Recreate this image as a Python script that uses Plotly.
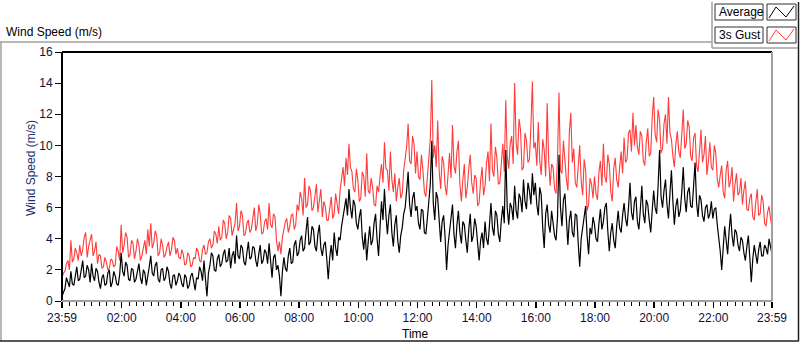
import plotly.graph_objects as go

# ---------------- data (3-minute samples, hours after 23:59) ----------------
gust = [
    1.5, 1.8, 1.9, 2.4, 2.6, 2.0, 3.9, 2.5, 2.7, 3.4, 3.1, 2.6, 3.6, 2.9, 3.3, 4.1, 4.4, 2.8, 3.5, 3.9,
    4.3, 2.9, 3.2, 3.8, 2.4, 3.0, 2.9, 2.1, 2.2, 2.8, 2.5, 2.0, 2.1, 2.7, 2.6, 2.2, 2.3, 3.5, 3.2, 2.6,
    4.9, 3.1, 3.6, 4.4, 4.1, 2.8, 3.0, 3.9, 3.7, 2.7, 3.2, 4.0, 3.6, 2.6, 2.9, 3.4, 3.9, 3.0, 4.6, 3.5,
    5.0, 3.4, 3.7, 4.5, 4.2, 2.9, 3.1, 4.0, 3.6, 2.8, 3.0, 3.5, 3.8, 2.9, 3.3, 4.1, 3.9, 3.0, 3.4, 2.8,
    2.7, 3.3, 3.0, 2.3, 2.4, 3.1, 2.9, 2.2, 2.3, 2.8, 2.7, 3.4, 3.2, 2.6, 2.5, 3.3, 3.6, 3.0, 3.1, 3.8,
    4.0, 3.4, 3.6, 4.5, 4.3, 3.7, 4.8, 3.9, 4.1, 5.2, 5.0, 4.0, 4.4, 5.5, 5.3, 4.2, 4.6, 5.0, 6.3, 4.5,
    4.8, 5.8, 5.5, 4.2, 4.3, 5.0, 5.2, 4.4, 4.6, 5.4, 6.0, 4.5, 4.9, 6.2, 5.6, 4.3, 4.4, 5.1, 5.3, 4.6,
    6.3, 4.9, 4.7, 5.6, 5.4, 3.9, 3.2, 3.8, 3.0, 4.1, 4.6, 5.1, 5.3, 4.4, 4.8, 5.5, 5.6, 4.6, 4.9, 6.2,
    5.8, 7.0, 6.6, 5.5, 7.9, 6.0, 6.2, 7.4, 7.1, 5.8, 6.0, 6.9, 7.5, 5.7, 6.6, 7.2, 5.4, 6.4, 6.1, 5.2,
    5.2, 6.1, 6.7, 5.3, 5.6, 6.9, 6.3, 5.6, 7.1, 8.0, 8.6, 7.4, 9.2, 8.1, 10.1, 8.6, 8.3, 7.2, 7.0, 8.5,
    7.8, 6.4, 6.6, 8.3, 8.0, 6.7, 9.5, 7.1, 6.9, 7.9, 7.3, 6.2, 6.1, 7.4, 7.0, 8.0, 8.8, 7.6, 10.2, 8.5,
    8.4, 7.1, 9.6, 7.8, 7.0, 8.2, 6.4, 7.3, 7.9, 6.6, 6.9, 8.4, 9.3, 9.9, 11.4, 9.0, 8.8, 10.6, 10.1, 8.2,
    9.6, 8.0, 7.8, 9.4, 8.4, 7.0, 6.7, 8.1, 9.1, 10.4, 14.2, 9.2, 10.0, 8.6, 11.6, 8.3, 7.2, 9.3, 8.9, 7.4,
    6.8, 8.4, 9.5, 7.9, 11.3, 8.7, 8.2, 9.6, 10.3, 7.5, 6.4, 7.8, 8.8, 6.6, 7.3, 8.5, 9.4, 7.6, 6.9, 8.1,
    7.9, 6.1, 6.3, 7.7, 8.6, 6.8, 7.4, 8.9, 9.6, 7.7, 11.4, 8.4, 8.0, 9.9, 9.2, 7.5, 7.6, 8.8, 10.1, 8.3,
    12.9, 9.3, 8.5, 10.1, 10.6, 8.8, 14.0, 10.2, 9.4, 11.7, 11.0, 8.4, 8.6, 10.8, 10.3, 8.9, 9.1, 11.2, 14.1, 9.8,
    10.2, 8.7, 11.5, 9.0, 8.1, 10.4, 9.7, 8.0, 12.7, 9.1, 7.4, 8.8, 8.6, 7.2, 6.9, 9.2, 13.4, 8.4, 8.2, 10.3,
    9.0, 7.8, 7.1, 10.9, 12.1, 8.9, 9.8, 7.6, 7.3, 8.6, 10.0, 7.7, 6.8, 9.1, 8.4, 5.8, 6.2, 7.9, 7.5, 6.6,
    8.0, 6.9, 6.5, 8.3, 9.0, 7.4, 10.1, 8.0, 7.6, 9.4, 8.8, 7.0, 6.4, 8.5, 9.2, 7.8, 7.3, 8.6, 9.6, 8.2,
    10.5, 8.9, 9.1, 10.8, 11.0, 9.6, 12.1, 10.0, 11.3, 9.9, 9.4, 10.9, 10.6, 9.0, 8.7, 10.2, 11.1, 9.3, 9.5, 11.8,
    13.1, 10.7, 10.2, 12.3, 11.6, 9.5, 9.8, 11.4, 12.0, 10.1, 13.1, 10.8, 10.4, 9.3, 8.6, 10.1, 10.9, 9.6, 9.2, 10.7,
    12.3, 9.8, 10.1, 11.6, 11.2, 9.3, 9.0, 10.5, 10.8, 8.7, 8.3, 9.6, 11.0, 8.9, 9.4, 10.6, 8.1, 9.0, 10.2, 8.6,
    8.4, 10.0, 9.5, 7.8, 7.3, 8.1, 8.7, 7.0, 6.6, 8.4, 9.0, 7.3, 7.7, 8.6, 6.4, 7.5, 8.2, 6.8, 7.0, 7.9,
    6.2, 7.1, 7.7, 5.9, 5.8, 6.6, 6.9, 5.4, 5.2, 6.3, 7.2, 5.5, 5.6, 6.8, 6.4, 5.0, 4.8, 5.7, 6.1, 5.3,
    4.7,
]

average = [
    0.3, 0.6, 0.8, 1.5, 1.2, 0.9, 1.9, 1.1, 1.0, 1.7, 2.2, 1.3, 1.4, 2.0, 2.6, 1.5, 1.6, 2.3, 2.0, 1.2,
    2.4, 1.6, 1.3, 2.1, 1.9, 1.2, 0.8, 1.5, 1.7, 1.0, 1.1, 1.8, 2.0, 0.9, 1.2, 1.9, 1.6, 1.1, 1.0, 1.7,
    3.1, 1.9, 1.6, 2.5, 2.3, 1.4, 1.3, 2.1, 2.0, 1.2, 1.4, 1.9, 2.4, 1.5, 1.1, 2.0, 1.8, 1.0, 1.5, 2.2,
    2.9, 1.8, 1.6, 2.3, 2.5, 1.4, 1.2, 2.0, 2.1, 1.3, 1.5, 2.2, 1.9, 1.1, 0.8, 1.6, 1.7, 1.0, 1.3, 1.8,
    1.6, 1.1, 0.9, 1.7, 1.5, 0.8, 1.0, 1.6, 1.8, 1.2, 0.7, 1.5, 1.4, 2.2, 1.9, 1.3, 2.6, 1.4, 0.3, 1.8,
    2.3, 3.1, 2.9, 2.0, 1.9, 2.7, 3.0, 2.2, 2.4, 3.0, 3.3, 2.5, 2.6, 3.4, 2.1, 2.9, 3.2, 2.4, 4.2, 2.9,
    2.7, 3.6, 3.4, 2.5, 2.3, 3.1, 3.8, 2.7, 2.8, 3.5, 3.4, 2.6, 2.2, 3.0, 3.6, 2.4, 2.6, 3.3, 3.1, 2.4,
    3.7, 2.6, 1.5, 2.8, 3.0, 2.0, 2.3, 1.6, 0.3, 1.9, 2.8, 2.1, 1.9, 2.9, 3.4, 2.4, 2.5, 3.6, 3.9, 2.9,
    3.1, 3.9, 4.2, 3.2, 3.4, 4.5, 5.4, 3.6, 3.8, 4.8, 4.6, 3.5, 3.2, 4.3, 4.9, 3.4, 2.9, 3.6, 3.8, 2.7,
    1.4, 2.8, 3.6, 2.6, 4.4, 3.4, 2.9, 4.1, 3.9, 4.8, 5.4, 6.1, 6.6, 5.5, 7.2, 6.0, 5.3, 6.5, 6.2, 5.0,
    4.6, 5.4, 5.9, 4.1, 3.3, 4.4, 2.6, 3.8, 4.8, 3.6, 3.9, 5.0, 5.6, 4.0, 2.9, 4.7, 6.4, 5.2, 7.2, 5.5,
    4.3, 5.5, 6.2, 4.4, 3.5, 4.9, 5.5, 3.9, 3.1, 4.2, 4.7, 5.6, 6.0, 7.1, 8.3, 6.2, 5.4, 6.6, 7.0, 5.8,
    6.1, 5.0, 4.6, 5.9, 5.8, 4.4, 4.3, 5.3, 6.4, 7.5, 10.3, 6.3, 5.2, 7.0, 6.6, 4.9, 3.8, 5.1, 5.5, 4.1,
    2.0, 3.6, 4.5, 5.6, 6.2, 4.3, 3.4, 4.9, 5.8, 4.4, 3.7, 5.1, 4.9, 3.9, 3.1, 4.6, 5.6, 3.8, 4.2, 5.3,
    4.8, 3.7, 2.6, 3.9, 4.4, 3.4, 5.1, 4.0, 3.6, 4.9, 6.3, 4.7, 4.2, 5.8, 5.5, 4.3, 3.8, 5.2, 6.1, 5.0,
    9.7, 6.0, 4.9, 6.3, 6.0, 5.2, 7.4, 5.8, 5.3, 6.9, 6.6, 5.7, 7.8, 6.4, 5.9, 7.6, 7.1, 6.2, 8.2, 6.8,
    7.6, 6.2, 5.5, 7.3, 6.8, 4.7, 3.4, 5.6, 6.2, 4.9, 4.4, 5.8, 5.0, 4.2, 3.9, 5.4, 9.4, 6.0, 4.8, 6.5,
    6.9, 4.8, 3.6, 5.2, 5.8, 4.4, 4.1, 5.6, 5.5, 3.7, 2.2, 4.0, 4.6, 5.3, 6.1, 4.2, 3.0, 4.7, 4.3, 5.4,
    4.9, 4.0, 3.8, 5.0, 5.9, 4.6, 5.1, 6.0, 6.3, 4.5, 3.2, 4.4, 5.0, 3.9, 3.4, 4.8, 5.8, 4.7, 4.4, 5.5,
    6.3, 5.3, 4.8, 6.0, 7.6, 5.7, 5.2, 6.4, 6.7, 5.1, 4.6, 5.9, 7.4, 5.6, 5.0, 6.5, 6.2, 5.2, 4.4, 5.8,
    7.1, 6.0, 5.6, 7.4, 9.7, 6.7, 6.0, 7.1, 7.8, 6.2, 5.3, 6.9, 8.4, 6.4, 4.9, 6.1, 6.6, 5.4, 5.8, 7.0,
    8.6, 6.6, 5.7, 7.0, 7.3, 6.1, 6.0, 7.4, 8.9, 6.3, 5.4, 6.8, 6.5, 5.5, 5.1, 6.0, 6.2, 5.3, 5.6, 6.4,
    5.3, 5.9, 6.0, 4.9, 4.1, 3.2, 2.0, 3.6, 4.8, 3.9, 3.0, 4.5, 5.6, 4.2, 3.5, 4.6, 4.4, 3.6, 3.2, 4.1,
    3.9, 3.1, 2.6, 3.5, 4.2, 2.8, 1.2, 2.7, 3.6, 3.0, 2.4, 3.3, 3.8, 2.9, 2.9, 3.6, 3.4, 3.0, 4.0, 3.5,
    3.0,
]

step_hours = 0.05
time_hours = [i * step_hours for i in range(len(gust))]

tick_labels = ["23:59", "02:00", "04:00", "06:00", "08:00", "10:00", "12:00",
               "14:00", "16:00", "18:00", "20:00", "22:00", "23:59"]
y_ticks = [0, 2, 4, 6, 8, 10, 12, 14, 16]

# tick positions (hours after 23:59)
tick_vals = [0.0] + [2 * k + 1 / 60 for k in range(1, 12)] + [24.0]
minor_vals = []
for a, b in zip(tick_vals[:-1], tick_vals[1:]):
    for j in range(1, 8):
        minor_vals.append(a + (b - a) * j / 8)

# ---------------- layout helpers (pixel -> paper) ----------------
L, R, T, B = 62, 772, 52, 301
W, H = R - L, B - T


def px(x):
    return (x - L) / W


def py(y):
    return (B - y) / H


FONT = "Liberation Sans"
RED = "#ff3b3b"

fig = go.Figure()
fig.add_trace(go.Scatter(x=time_hours, y=gust, mode="lines", name="3s Gust",
                         line=dict(color=RED, width=1.1), hoverinfo="skip"))
fig.add_trace(go.Scatter(x=time_hours, y=average, mode="lines", name="Average",
                         line=dict(color="#000000", width=1.2), hoverinfo="skip"))

shapes = []
# plot frame
shapes.append(dict(type="line", xref="paper", yref="paper", x0=0, x1=1, y0=1, y1=1,
                   line=dict(color="#000000", width=2), layer="above"))
shapes.append(dict(type="line", xref="paper", yref="paper", x0=0, x1=0, y0=0, y1=1,
                   line=dict(color="#000000", width=2), layer="above"))
shapes.append(dict(type="line", xref="paper", yref="paper", x0=1, x1=1, y0=0, y1=1,
                   line=dict(color="#a0a0a0", width=2), layer="above"))
shapes.append(dict(type="line", xref="paper", yref="paper", x0=0, x1=1, y0=0, y1=0,
                   line=dict(color="#a0a0a0", width=2), layer="above"))
# outer frame
shapes.append(dict(type="line", xref="paper", yref="paper", x0=px(0), x1=px(712),
                   y0=py(42), y1=py(42), line=dict(color="#a0a0a0", width=1.5)))
shapes.append(dict(type="line", xref="paper", yref="paper", x0=px(1), x1=px(1),
                   y0=py(42), y1=py(341), line=dict(color="#a0a0a0", width=1.5)))
shapes.append(dict(type="line", xref="paper", yref="paper", x0=px(0), x1=px(799),
                   y0=py(341), y1=py(341), line=dict(color="#202020", width=1.5)))
shapes.append(dict(type="line", xref="paper", yref="paper", x0=px(798.5), x1=px(798.5),
                   y0=py(2), y1=py(341), line=dict(color="#202020", width=1.5)))
shapes.append(dict(type="line", xref="paper", yref="paper", x0=px(712), x1=px(712),
                   y0=py(2), y1=py(48), line=dict(color="#a0a0a0", width=1.5)))
shapes.append(dict(type="line", xref="paper", yref="paper", x0=px(712), x1=px(798),
                   y0=py(48), y1=py(48), line=dict(color="#a0a0a0", width=1.5)))

# custom legend
legend_rows = [("Average", "#000000", 4), ("3s Gust", RED, 27)]
annotations = []
for name, col, top in legend_rows:
    bot = top + 16
    shapes.append(dict(type="rect", xref="paper", yref="paper", x0=px(715), x1=px(763),
                       y0=py(bot), y1=py(top), line=dict(color="#303030", width=1),
                       fillcolor="white"))
    shapes.append(dict(type="rect", xref="paper", yref="paper", x0=px(767), x1=px(796),
                       y0=py(bot), y1=py(top), line=dict(color="#303030", width=1),
                       fillcolor="white"))
    path = "M {},{} L {},{} L {},{} L {},{}".format(
        px(769), py(bot - 2), px(776), py(top + 3), px(786), py(bot - 3),
        px(794), py(top + 2))
    shapes.append(dict(type="path", xref="paper", yref="paper", path=path,
                       line=dict(color=col, width=1)))
    annotations.append(dict(text=name, xref="paper", yref="paper", x=px(717),
                            y=py((top + bot) / 2), xanchor="left", yanchor="middle",
                            showarrow=False, font=dict(family=FONT, size=12, color="#000000")))

annotations.append(dict(text="Wind Speed (m/s)", xref="paper", yref="paper", x=px(4),
                        y=py(32), xanchor="left", yanchor="middle", showarrow=False,
                        font=dict(family=FONT, size=12, color="#000000")))
annotations.append(dict(text="Wind Speed (m/s)", xref="paper", yref="paper", x=px(31),
                        y=py(168), xanchor="center", yanchor="middle", textangle=-90,
                        showarrow=False, font=dict(family=FONT, size=12, color="#1c2f6e")))
annotations.append(dict(text="Time", xref="paper", yref="paper", x=px(415),
                        y=py(334), xanchor="center", yanchor="middle", showarrow=False,
                        font=dict(family=FONT, size=12, color="#000000")))

fig.update_layout(
    width=800, height=342,
    margin=dict(l=L, r=800 - R, t=T, b=342 - B, pad=0),
    paper_bgcolor="white", plot_bgcolor="white",
    showlegend=False,
    shapes=shapes,
    annotations=annotations,
    xaxis=dict(range=[0, 24], tickmode="array", tickvals=tick_vals, ticktext=tick_labels,
               ticks="outside", ticklen=6, tickwidth=1.5, tickcolor="#000000",
               showgrid=False, zeroline=False, showline=False,
               tickfont=dict(family=FONT, size=12, color="#10103a"),
               minor=dict(tickmode="array", tickvals=minor_vals, ticks="outside",
                          ticklen=4, tickwidth=1, tickcolor="#000000", showgrid=False)),
    yaxis=dict(range=[0, 16], tickmode="array", tickvals=y_ticks,
               ticks="outside", ticklen=6, tickwidth=1, tickcolor="#000000",
               showgrid=False, zeroline=False, showline=False,
               tickfont=dict(family=FONT, size=12, color="#10103a")),
)

fig.write_html("out.html",
               config={"displayModeBar": False, "staticPlot": True},
               post_script="document.body.style.margin='0px';"
                           "document.body.style.overflow='hidden';")
